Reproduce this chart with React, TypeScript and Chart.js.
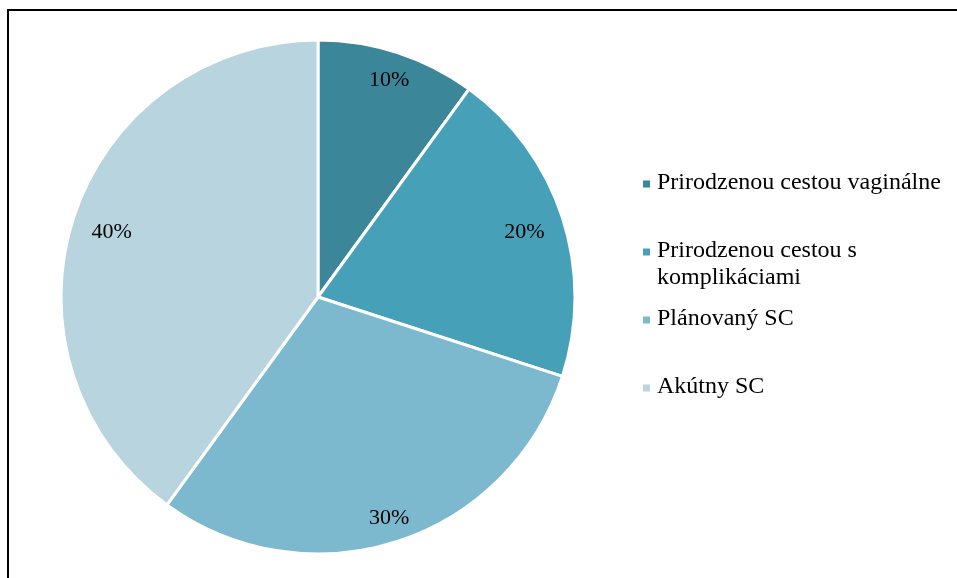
import React, { useEffect, useRef } from "react";
import { Chart, registerables } from "chart.js";

Chart.register(...registerables);

const categories = [
  "Prirodzenou cestou vaginálne",
  "Prirodzenou cestou s komplikáciami",
  "Plánovaný SC",
  "Akútny SC",
];
const values = [10, 20, 30, 40];
const valueLabels = ["10%", "20%", "30%", "40%"];
const colors = ["#3B8799", "#46A1B8", "#7DB9CE", "#B7D4DF"];

const SERIF = '"Liberation Serif", "Times New Roman", serif';
const LABEL_FONT = "22px " + SERIF;
const LEGEND_FONT = "24px " + SERIF;

const framePlugin = {
  id: "frame",
  beforeDraw(chart: any) {
    const ctx = chart.ctx;
    ctx.save();
    ctx.fillStyle = "#ffffff";
    ctx.fillRect(0, 0, chart.width, chart.height);
    ctx.strokeStyle = "#000000";
    ctx.lineWidth = 2;
    ctx.strokeRect(8, 10, chart.width + 20, chart.height + 20);
    ctx.restore();
  },
};

const labelPlugin = {
  id: "sliceLabels",
  afterDatasetsDraw(chart: any) {
    const ctx = chart.ctx;
    const meta = chart.getDatasetMeta(0);
    ctx.save();
    ctx.font = LABEL_FONT;
    ctx.fillStyle = "#000000";
    ctx.textAlign = "center";
    ctx.textBaseline = "middle";
    meta.data.forEach((arc: any, i: number) => {
      const p = arc.getProps(["x", "y", "startAngle", "endAngle", "outerRadius"], true);
      const a = (p.startAngle + p.endAngle) / 2;
      const r = p.outerRadius - 20 - 21 * Math.abs(Math.cos(a));
      ctx.fillText(valueLabels[i], p.x + Math.cos(a) * r, p.y + Math.sin(a) * r + 2);
    });
    ctx.restore();
  },
};

function wrap(ctx: CanvasRenderingContext2D, text: string, maxW: number): string[] {
  const words = text.split(" ");
  const lines: string[] = [];
  let cur = "";
  for (const w of words) {
    const t = cur ? cur + " " + w : w;
    if (ctx.measureText(t).width > maxW && cur) {
      lines.push(cur);
      cur = w;
    } else cur = t;
  }
  if (cur) lines.push(cur);
  return lines;
}

const legendPlugin = {
  id: "sideLegend",
  afterDraw(chart: any) {
    const ctx = chart.ctx;
    ctx.save();
    ctx.font = LEGEND_FONT;
    ctx.textBaseline = "alphabetic";
    ctx.textAlign = "left";
    const boxX = 643;
    const textX = 657;
    const firstBaseline = 188.5;
    const slot = 68;
    const lineH = 27.5;
    categories.forEach((c, i) => {
      const b = firstBaseline + i * slot;
      ctx.fillStyle = colors[i];
      ctx.fillRect(boxX, b - 8, 7, 7);
      ctx.fillStyle = "#000000";
      const lines = wrap(ctx, c, 296);
      lines.forEach((ln, j) => ctx.fillText(ln, textX, b + j * lineH));
    });
    ctx.restore();
  },
};

export default function App() {
  const ref = useRef<HTMLCanvasElement | null>(null);
  useEffect(() => {
    document.body.style.margin = "0";
    const chart = new Chart(ref.current as HTMLCanvasElement, {
      type: "pie",
      data: {
        labels: categories,
        datasets: [
          {
            data: values,
            backgroundColor: colors,
            borderColor: "#ffffff",
            borderWidth: 3,
            hoverOffset: 0,
          },
        ],
      },
      options: {
        responsive: false,
        animation: false,
        radius: 257,
        layout: { padding: { left: 61, right: 382, top: 40, bottom: 24 } },
        plugins: {
          legend: { display: false },
          tooltip: { enabled: false },
        },
      } as any,
      plugins: [framePlugin, labelPlugin, legendPlugin],
    });
    return () => chart.destroy();
  }, []);
  return (
    <div style={{ width: 957, height: 578 }}>
      <canvas ref={ref} width={957} height={578} style={{ display: "block" }} />
    </div>
  );
}
